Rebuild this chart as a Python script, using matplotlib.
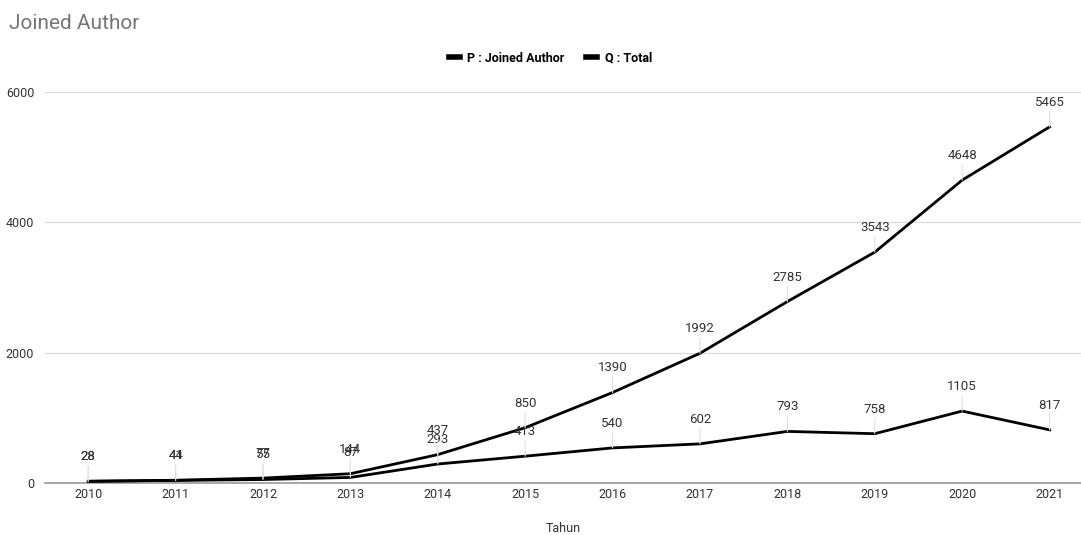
import matplotlib.pyplot as plt
import numpy as np

plt.rcParams['font.family'] = ['Roboto', 'DejaVu Sans']

tahun = ['2010', '2011', '2012', '2013', '2014', '2015', '2016', '2017', '2018', '2019', '2020', '2021']
joined_author = [28, 41, 55, 87, 293, 413, 540, 602, 793, 758, 1105, 817]
total = [28, 44, 77, 144, 437, 850, 1390, 1992, 2785, 3543, 4648, 5465]

x = np.arange(len(tahun))

fig = plt.figure(figsize=(10.81, 5.35), dpi=100)
ax = fig.add_axes([0.042, 0.097, 0.958, 0.731])

ax.plot(x, joined_author, color='black', lw=2, label='P : Joined Author', zorder=3)
ax.plot(x, total, color='black', lw=2, label='Q : Total', zorder=3)

# data labels with small leader lines
for series in [joined_author, total]:
    for xi, v in zip(x, series):
        ax.annotate(str(v), xy=(xi, v), xytext=(0, 13), textcoords='offset points',
                    ha='center', va='bottom', fontsize=9.5, color='#333333',
                    arrowprops=dict(arrowstyle='-', color='#e0e0e0', lw=0.8,
                                    shrinkA=0, shrinkB=0))

ax.set_xlim(-0.49, 11.36)
ax.set_ylim(0, 6000)
ax.set_yticks([0, 2000, 4000, 6000])
ax.set_xticks(x)
ax.set_xticklabels(tahun)
ax.tick_params(axis='both', length=0, labelsize=9, colors='#333333')
ax.tick_params(axis='y', pad=8)
ax.grid(axis='y', color='#d9d9d9', lw=0.8)
ax.set_axisbelow(True)
for s in ['top', 'right', 'left']:
    ax.spines[s].set_visible(False)
ax.spines['bottom'].set_color('#999999')
ax.spines['bottom'].set_linewidth(1.2)
ax.set_xlabel('Tahun', fontsize=9, color='#333333', labelpad=15)

fig.text(0.008, 0.945, 'Joined Author', fontsize=15, color='#757575')
fig.legend(loc='center', bbox_to_anchor=(0.509, 0.891), ncol=2, frameon=False,
           prop={'size': 9, 'weight': 'bold'}, handlelength=0.9, handletextpad=0.6,
           columnspacing=1.7)
for line in fig.legends[0].get_lines():
    line.set_linewidth(4)

fig.savefig('out.png', dpi=100)
